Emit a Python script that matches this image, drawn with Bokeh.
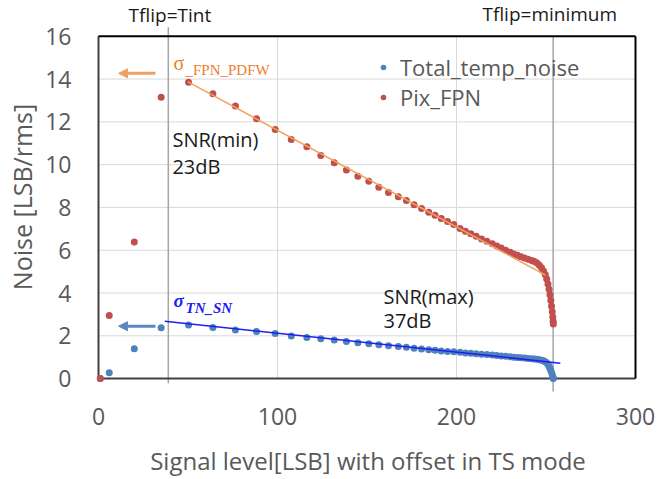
from bokeh.plotting import figure
from bokeh.models import Range1d, FixedTicker, Legend, LegendItem, Arrow, NormalHead
from bokeh.core.properties import value
from bokeh.embed import file_html
from bokeh.resources import INLINE

# ---------------- data ----------------
X_TICKS = [0, 100, 200, 300]
Y_TICKS = [0, 2, 4, 6, 8, 10, 12, 14, 16]

SIGNAL = [1, 6, 20, 35,
          50.3, 63.9, 76.5, 88.3, 98.7, 107.7, 116.4, 124.2, 131.7, 138.5, 144.9, 151.0, 156.6,
          162.0, 167.5, 172.0, 176.3, 180.5, 184.5, 188.0, 191.5, 195.0, 198.5,
          202.0, 205.0, 208.0, 211.0, 214.0, 217.0, 220.0,
          222.5, 225.0, 227.5, 230.0,
          232.0, 234.0, 236.0, 238.0, 240.0, 242.0,
          243.5, 245.0, 246.3, 247.5, 248.6, 249.6, 250.4, 251.1, 251.7, 252.2, 252.7, 253.1,
          253.5, 253.8, 254.0, 254.1]

PIX_FPN = [0, 2.95, 6.38, 13.15,
           13.85, 13.32, 12.74, 12.15, 11.64, 11.18, 10.84, 10.43, 10.09, 9.75, 9.46, 9.22, 8.94,
           8.70, 8.50, 8.32, 8.13, 7.95, 7.78, 7.63, 7.48, 7.34, 7.20,
           7.02, 6.89, 6.77, 6.65, 6.53, 6.42, 6.30,
           6.20, 6.10, 6.00, 5.90,
           5.82, 5.76, 5.70, 5.64, 5.58, 5.52,
           5.47, 5.40, 5.30, 5.18, 5.03, 4.86, 4.65, 4.42, 4.18, 3.92, 3.65, 3.38,
           3.12, 2.88, 2.68, 2.55]

TOTAL_TEMP_NOISE = [0, 0.27, 1.40, 2.38,
                    2.51, 2.39, 2.27, 2.20, 2.11, 1.99, 1.92, 1.86, 1.80, 1.73, 1.67, 1.63, 1.58,
                    1.54, 1.50, 1.46, 1.42, 1.38, 1.35, 1.32, 1.29, 1.27, 1.25,
                    1.23, 1.20, 1.18, 1.16, 1.14, 1.12, 1.10,
                    1.08, 1.06, 1.04, 1.02,
                    1.00, 0.99, 0.97, 0.96, 0.94, 0.93,
                    0.92, 0.90, 0.88, 0.86, 0.83, 0.79, 0.74, 0.67, 0.58, 0.48, 0.38, 0.28,
                    0.18, 0.09, 0.03, 0.0]

FPN_FIT_X = [50.0, 249.7]
FPN_FIT_Y = [13.87, 4.84]
TN_FIT_X = [37.0, 258.0]
TN_FIT_Y = [2.68, 0.72]

TFLIP_TINT = 39
TFLIP_MIN = 254

# ---------------- figure ----------------
FONT = "Open Sans"
GRAY = "#595959"
BLUE = "#4F81BD"
RED = "#C0504D"

p = figure(width=657, height=479, output_backend="svg", toolbar_location=None,
           x_range=Range1d(-4.469, 305.587), y_range=Range1d(-0.6977, 17.674),
           min_border_left=90, min_border_right=12, min_border_top=0, min_border_bottom=84)
p.outline_line_color = None
p.xgrid.visible = False
p.ygrid.visible = False

for ax in (p.xaxis[0], p.yaxis[0]):
    ax.axis_line_color = None
    ax.major_tick_line_color = None
    ax.minor_tick_line_color = None
    ax.major_tick_out = 0
    ax.major_tick_in = 0
    ax.minor_tick_out = 0
    ax.minor_tick_in = 0
    ax.major_label_text_font = FONT
    ax.major_label_text_font_size = "23px"
    ax.major_label_text_color = GRAY
    ax.axis_label_text_font = FONT
    ax.axis_label_text_font_style = "normal"
    ax.axis_label_text_color = GRAY

p.xaxis.ticker = FixedTicker(ticks=X_TICKS)
p.yaxis.ticker = FixedTicker(ticks=Y_TICKS)
p.xaxis.axis_label = "Signal level[LSB] with offset in TS mode"
p.yaxis.axis_label = "Noise [LSB/rms]"
p.xaxis.axis_label_text_font_size = "24px"
p.yaxis.axis_label_text_font_size = "25px"
p.xaxis.major_label_standoff = 14
p.xaxis.axis_label_standoff = 16
p.yaxis.major_label_standoff = 19
p.yaxis.axis_label_standoff = 3

x0, x1 = X_TICKS[0], X_TICKS[-1]
y0, y1 = Y_TICKS[0], Y_TICKS[-1]

# gridlines
inner_y = Y_TICKS[1:-1]
p.segment(x0=[x0] * len(inner_y), x1=[x1] * len(inner_y), y0=inner_y, y1=inner_y,
          line_color="#D9D9D9", line_width=1)
inner_x = X_TICKS[1:-1]
p.segment(x0=inner_x, x1=inner_x, y0=[y0] * len(inner_x), y1=[y1] * len(inner_x),
          line_color="#D9D9D9", line_width=1)

# Tflip lines
p.segment(x0=[TFLIP_TINT], x1=[TFLIP_TINT], y0=[-0.23], y1=[16.42], line_color="#A6A6A6", line_width=1.5)
p.segment(x0=[TFLIP_MIN], x1=[TFLIP_MIN], y0=[-0.6], y1=[y1], line_color="#A6A6A6", line_width=1.5)

# frame box
p.segment(x0=[x0, x0], x1=[x1, x0], y0=[y0, y0], y1=[y0, y1], line_color="#404040", line_width=2)
p.segment(x0=[x0, x1], x1=[x1, x1], y0=[y1, y0], y1=[y1, y1], line_color="black", line_width=2)

# series
r_tn = p.scatter(SIGNAL, TOTAL_TEMP_NOISE, size=7, color=BLUE, line_color=None)
r_fpn = p.scatter(SIGNAL, PIX_FPN, size=7, color=RED, line_color=None)

# fitted lines
p.line(FPN_FIT_X, FPN_FIT_Y, line_color="#F4A15D", line_width=1.5)
p.line(TN_FIT_X, TN_FIT_Y, line_color="#1F1FF0", line_width=1.5)

# arrows
ORANGE_ARROW = "#F0A060"
BLUE_ARROW = "#5B87C0"
p.add_layout(Arrow(end=NormalHead(size=9, fill_color=ORANGE_ARROW, line_color=ORANGE_ARROW),
                   x_start=31.8, y_start=14.27, x_end=11.2, y_end=14.27,
                   line_color=ORANGE_ARROW, line_width=3))
p.add_layout(Arrow(end=NormalHead(size=9, fill_color=BLUE_ARROW, line_color=BLUE_ARROW),
                   x_start=31.8, y_start=2.45, x_end=11.2, y_end=2.45,
                   line_color=BLUE_ARROW, line_width=3))

# annotations
p.text(x=[41.3, 41.3, 159.2, 159.2], y=[11.16, 9.9, 3.86, 2.7],
       text=["SNR(min)", "23dB", "SNR(max)", "37dB"],
       text_font=value(FONT), text_font_size="20px", text_color="#1A1A1A",
       text_baseline="middle", text_align="left")
p.text(x=[16.8, 214.5], y=[16.98, 17.02], text=["Tflip=Tint", "Tflip=minimum"],
       text_font=value(FONT), text_font_size="19px", text_color="#1A1A1A",
       text_baseline="middle", text_align="left")

# sigma labels
p.text(x=[41.9], y=[14.74], text=["σ"], text_font=value("Liberation Serif"),
       text_font_size="20px", text_color="#ED7D31", text_baseline="middle", text_align="left")
p.text(x=[48.6], y=[14.42], text=["_FPN_PDFW"], text_font=value("Liberation Serif"),
       text_font_size="15px", text_color="#ED7D31", text_baseline="middle", text_align="left")
p.text(x=[41.9], y=[3.67], text=["σ"], text_font=value("Liberation Serif"),
       text_font_size="19px", text_font_style="bold italic", text_color="#2020F0",
       text_baseline="middle", text_align="left")
p.text(x=[48.6], y=[3.28], text=["TN_SN"], text_font=value("Liberation Serif"),
       text_font_size="15px", text_font_style="bold italic", text_color="#2020F0",
       text_baseline="middle", text_align="left")

legend = Legend(items=[LegendItem(label="Total_temp_noise", renderers=[r_tn]),
                       LegendItem(label="Pix_FPN", renderers=[r_fpn])],
                location=(286, 281), glyph_width=14, glyph_height=28, label_height=28,
                label_standoff=10, spacing=0, padding=0, margin=0,
                label_text_font=FONT, label_text_font_size="22px", label_text_color=GRAY,
                border_line_color=None, background_fill_alpha=0)
p.add_layout(legend)

open("out.html", "w").write(file_html(p, INLINE))
